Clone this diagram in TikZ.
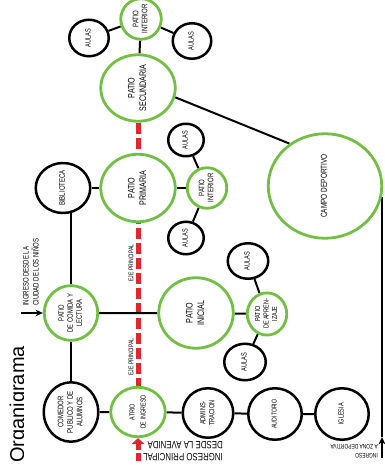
\documentclass[tikz,border=0pt]{standalone}
\usepackage{fontspec}
\setmainfont{Liberation Sans}
\newfontfamily\narrow[FakeStretch=0.75]{Liberation Sans}
\usepackage{graphicx}
\usetikzlibrary{
  shapes.geometric,
  arrows.meta,
  backgrounds
}
\definecolor{verde}{HTML}{72BF44}
\definecolor{rojo}{HTML}{E3262B}
\newcommand{\vtxt}[1]{\rotatebox{90}{\begin{tabular}{@{}c@{}}#1\end{tabular}}}
\newcommand{\fnt}[2]{\narrow\fontsize{#1}{#2}\selectfont}

\begin{document}
\begin{tikzpicture}[
  x=1pt, y=-1pt,
  zona/.style={ellipse, draw=verde, line width=2.8pt, fill=white, inner sep=0pt},
  espacio/.style={ellipse, draw=black, line width=2.5pt, fill=white, inner sep=0pt},
  con/.style={line width=2pt, black},
  arr/.style={-{Stealth[length=2.6mm, width=2.4mm]}, line width=1.8pt, black},
  eje/.style={rojo, line width=5pt, dash pattern=on 11pt off 4pt},
  ejearr/.style={-{Triangle[length=6pt, width=13pt]}, rojo, line width=5pt,
                 dash pattern=on 8pt off 3pt},
  etq/.style={inner sep=0pt, align=left}
]
  \useasboundingbox (0,0) rectangle (385,476);

  % Secundaria
  \node[zona, minimum width=40.5pt, minimum height=35.5pt, font=\fnt{8}{9}] (pint1) at (141,19) {\vtxt{PATIO\\INTERIOR}};
  \node[espacio, minimum width=39.5pt, minimum height=36.5pt, font=\fnt{7.5}{8}] (aul1) at (89,38) {\vtxt{AULAS}};
  \node[espacio, minimum width=38.5pt, minimum height=35.5pt, font=\fnt{7.5}{8}] (aul2) at (192,41) {\vtxt{AULAS}};
  \node[zona, minimum width=74.5pt, minimum height=66.5pt, font=\fnt{9.5}{11.5}] (sec) at (138,88) {\vtxt{PATIO\\SECUNDARIA}};
  \node[zona, minimum width=113.5pt, minimum height=104.5pt, font=\fnt{8.6}{9}] (campo) at (325,186) {\vtxt{CAMPO DEPORTIVO}};

  % Primaria
  \node[zona, minimum width=74.5pt, minimum height=67.5pt, font=\fnt{9.5}{11.5}] (pri) at (138,188) {\vtxt{PATIO\\PRIMARIA}};
  \node[espacio, minimum width=54.5pt, minimum height=47.5pt, font=\fnt{8}{9}] (bib) at (63,188) {\vtxt{BIBLIOTECA}};
  \node[zona, minimum width=39.5pt, minimum height=37.5pt, font=\fnt{8}{9}] (pint2) at (207,188) {\vtxt{PATIO\\INTERIOR}};
  \node[espacio, minimum width=35.5pt, minimum height=32.5pt, font=\fnt{7.5}{8}] (aul3) at (186,140) {\vtxt{AULAS}};
  \node[espacio, minimum width=35.5pt, minimum height=32.5pt, font=\fnt{7.5}{8}] (aul4) at (186,238) {\vtxt{AULAS}};

  % Inicial
  \node[zona, minimum width=53.5pt, minimum height=46pt, font=\fnt{7.8}{9}] (comida) at (71,313) {\vtxt{PATIO\\DE COMIDA Y\\LECTURA}};
  \node[zona, minimum width=74.5pt, minimum height=70.5pt, font=\fnt{9.5}{11.5}] (ini) at (196,313) {\vtxt{PATIO\\INICIAL}};
  \node[zona, minimum width=39.5pt, minimum height=37.5pt, font=\fnt{7.3}{8.5}] (apr) at (267,314) {\vtxt{PATIO\\DE APREN-\\IZAJE}};
  \node[espacio, minimum width=40.5pt, minimum height=35.5pt, font=\fnt{7.5}{8}] (aul5) at (248,261) {\vtxt{AULAS}};
  \node[espacio, minimum width=41.5pt, minimum height=36.5pt, font=\fnt{7.5}{8}] (aul6) at (245,362) {\vtxt{AULAS}};

  % Ingreso
  \node[espacio, minimum width=54.5pt, minimum height=51.5pt, font=\fnt{8}{9.5}] (com) at (71,412) {\vtxt{COMEDOR\\PUBLICO Y DE\\ALUMNOS}};
  \node[zona, minimum width=54.5pt, minimum height=49.5pt, font=\fnt{7.2}{11}] (atr) at (138,412) {\vtxt{ATRIO\\DE INGRESO}};
  \node[espacio, minimum width=50.5pt, minimum height=49.5pt, font=\fnt{7.5}{9}] (adm) at (208,413) {\vtxt{ADMINS-\\TRACION}};
  \node[espacio, minimum width=53.5pt, minimum height=51.5pt, font=\fnt{7}{8}] (aud) at (275,414) {\vtxt{AUDITORIO}};
  \node[espacio, minimum width=53.5pt, minimum height=51.5pt, font=\fnt{7.4}{8}] (igl) at (342,414) {\vtxt{IGLESIA}};

  % Accesses
  \coordinate (ciudad) at (21,313);
  \coordinate (ejebot) at (138,461);
  \coordinate (depbot) at (382,458);
  \coordinate (deptip) at (382,437);
  \coordinate (deptop) at (382,197);

  % Texts
  \node[etq, rotate=90, anchor=south west, font=\fnt{8}{10}] (ciudadtxt) at (39,306) {INGRESO DESDE LA\\CIUDAD DE LOS NIÑOS};
  \node[etq, rotate=90, font=\fnt{6.8}{7}] (eje1) at (131,263) {EJE PRINCIPAL};
  \node[etq, rotate=90, font=\fnt{6.8}{7}] (eje2) at (131,357) {EJE PRINCIPAL};
  \node[etq, rotate=180, font=\fnt{10.5}{12}] (ingtxt) at (183,451) {INGRESO PRINCIPAL\\DESDE LA AVENIDA};
  \node[etq, rotate=180, anchor=west, font=\fnt{6.5}{9.5}] (deptxt) at (378,451) {INGRESO\\A ZONA DEPORTIVA};
  \begin{scope}
    \clip (0,330) rectangle (23.5,476);
    \node[inner sep=0pt, rotate=90, anchor=base west, font=\fontsize{20}{24}\selectfont] (titulo) at (24,463) {Organigrama};
  \end{scope}

  % Connectors
  \begin{scope}[on background layer]
    \draw[eje] (sec) -- (atr);
    \draw[ejearr] (ejebot) -- (atr.south);
    \draw[con] (aul1) -- (pint1) -- (aul2);
    \draw[con] (pint1) -- (sec);
    \draw[con] (sec.-14) -- (campo.130);
    \draw[con] (bib) -- (pri) -- (pint2);
    \draw[con] (aul3) -- (pint2) -- (aul4);
    \draw[con] (comida) -- (comida |- bib);
    \draw[con] (comida) -- (ini) -- (apr);
    \draw[con] (aul5) -- (apr) -- (aul6);
    \draw[con] (comida) -- (com);
    \draw[con] (com) -- (atr) -- (adm) -- (aud) -- (igl);
    \draw[arr] (ciudad) -- (comida.west);
    \draw[arr] (depbot) -- (deptip);
    \draw[con] (deptip) -- (deptop);
  \end{scope}
\end{tikzpicture}
\end{document}
